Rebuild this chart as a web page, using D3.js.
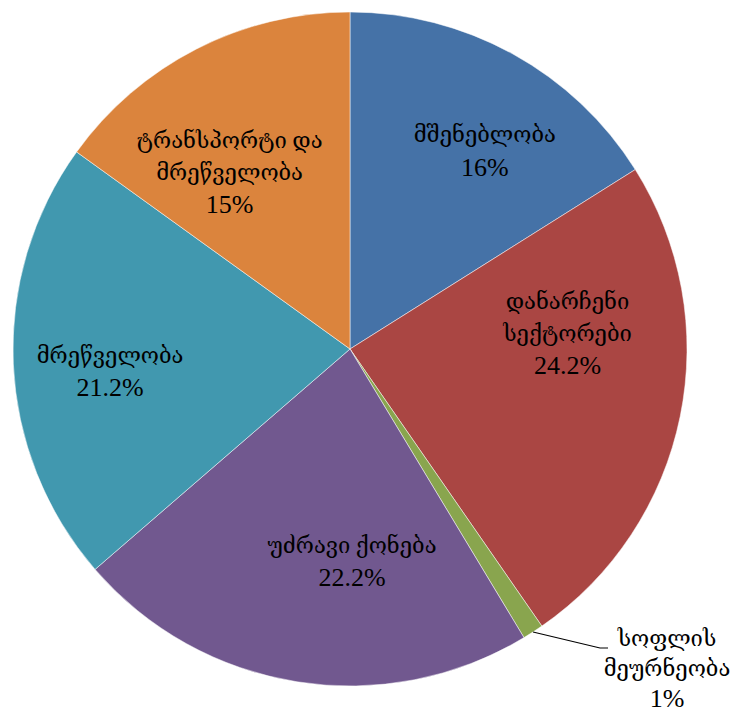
<!DOCTYPE html>
<html>
<head>
<meta charset="utf-8">
<script src="https://d3js.org/d3.v7.min.js"></script>
<style>
  body { margin: 0; background: #fff; }
</style>
</head>
<body>
<div id="chart"></div>
<script>
// slice names (one array per label line) and values, clockwise from the top
var categories = [
  ["მშენებლობა"],
  ["დანარჩენი", "სექტორები"],
  ["სოფლის", "მეურნეობა"],
  ["უძრავი ქონება"],
  ["მრეწველობა"],
  ["ტრანსპორტი და", "მრეწველობა"]
];
var values = [16, 24.2, 1, 22.2, 21.2, 15];
var valueLabels = ["16%", "24.2%", "1%", "22.2%", "21.2%", "15%"];
var colors = ["#4572A7", "#AA4643", "#89A54E", "#71588F", "#4198AF", "#DB843D"];

var width = 739, height = 715;
var cx = 350, cy = 349, radius = 337;
var nameSize = 22, numSize = 26, lineH = 32;

var svg = d3.select("#chart")
  .append("svg")
    .attr("width", width)
    .attr("height", height)
  .append("g")
    .attr("transform", "translate(" + cx + "," + cy + ")");

var pie = d3.pie().sort(null).value(function(d) { return d; });
var arcs = pie(values);

var arc = d3.arc().innerRadius(0).outerRadius(radius);
var labelArc = d3.arc().innerRadius(radius * 0.68).outerRadius(radius * 0.68);

svg.selectAll(".slice")
  .data(arcs)
  .enter()
  .append("path")
    .attr("class", "slice")
    .attr("d", arc)
    .attr("fill", function(d, i) { return colors[i]; })
    .attr("stroke", "#fff")
    .attr("stroke-width", 0.5);

// best-fit style nudges for the inside labels (Excel moves them around a bit)
var nudge = [[24, 2], [-7, -62], [0, 0], [38, -14], [-11, 12], [-16, 27]];

arcs.forEach(function(d, i) {
  var lines = categories[i].concat([valueLabels[i]]);
  var p, anchorX, anchorY, step = lineH;
  if (i === 2) {
    // small slice: label outside with a leader line
    var a = (d.startAngle + d.endAngle) / 2;
    var sx = Math.sin(a) * radius, sy = -Math.cos(a) * radius;
    var ex = sx + 67, ey = sy + 16;
    svg.append("path")
      .attr("d", d3.line()([[sx, sy], [ex, ey], [ex + 8, ey]]))
      .attr("fill", "none")
      .attr("stroke", "#000")
      .attr("stroke-width", 1.2);
    anchorX = ex + 67;
    anchorY = ey - 10;
    step = 30;
  } else {
    p = labelArc.centroid(d);
    anchorX = p[0] + nudge[i][0];
    anchorY = p[1] + nudge[i][1] - (lines.length - 1) * lineH / 2;
  }
  var t = svg.append("text")
    .attr("text-anchor", "middle")
    .attr("font-family", "'Liberation Serif', 'DejaVu Serif', 'DejaVu Sans', serif")
    .attr("fill", "#000");
  lines.forEach(function(s, j) {
    t.append("tspan")
      .attr("x", anchorX)
      .attr("y", anchorY + j * step)
      .attr("dy", "0.35em")
      .attr("font-size", j === lines.length - 1 ? numSize : nameSize)
      .text(s);
  });
});
</script>
</body>
</html>
